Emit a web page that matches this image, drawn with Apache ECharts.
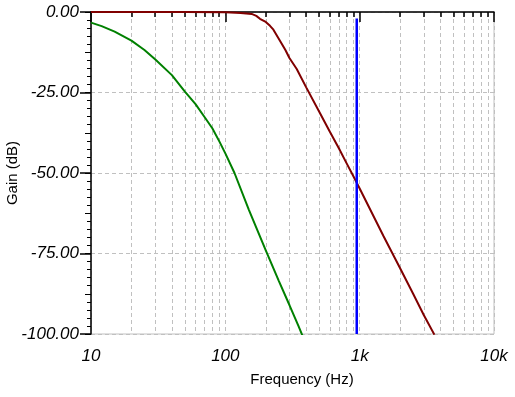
<!DOCTYPE html>
<html>
<head>
<meta charset="utf-8">
<script src="https://cdn.jsdelivr.net/npm/echarts@6/dist/echarts.min.js"></script>
<style>
  html, body { margin: 0; padding: 0; background: #ffffff; }
  #chart { width: 515px; height: 397px; }
</style>
</head>
<body>
<div id="chart"></div>
<script>
// 频率 (Hz) / 增益 (dB)
var redFreq = [10, 50, 100, 130, 157, 170, 181, 200, 215, 228, 255, 280, 300, 340, 400, 500, 600, 700, 800, 900, 1000, 1500, 2000, 2500, 3000, 3600];
var redGain = [0, 0, -0.1, -0.3, -0.6, -1.2, -2.1, -3.1, -4.3, -5.5, -8.9, -11.8, -14.3, -17.7, -23.4, -31.0, -37.2, -42.3, -47.0, -51.1, -54.8, -69.5, -79.6, -87.5, -94.1, -100.2];

var greenFreq = [10, 12, 15, 20, 25, 30, 40, 50, 60, 70, 80, 90, 100, 117, 150, 200, 250, 300, 350, 375];
var greenGain = [-3.3, -4.4, -6.1, -8.9, -11.8, -14.7, -19.6, -24.7, -28.6, -32.6, -36.1, -40.1, -43.9, -50.0, -61.5, -74.0, -83.5, -91.0, -97.5, -100.5];

// 光标
var cursorFreq = [951, 951];
var cursorGain = [-2, -100];

var xTickLabels = { 10: "10", 100: "100", 1000: "1k", 10000: "10k" };

function pairs(xs, ys) {
  var res = [];
  for (var i = 0; i < xs.length; i++) {
    res.push([xs[i], ys[i]]);
  }
  return res;
}

var chartDom = document.getElementById("chart");
var myChart = echarts.init(chartDom);
var option;

var labelFont = {
  color: "#000000",
  fontFamily: "Liberation Sans, Arial, sans-serif",
  fontStyle: "italic",
  fontSize: 17,
};
var gridLine = { color: "#c0c0c0", type: [4, 3], width: 1 };

option = {
  backgroundColor: "#ffffff",
  animation: false,
  grid: {
    left: 91,
    right: 21,
    top: 12,
    bottom: 63,
    outerBoundsMode: "none",
    containLabel: false,
    show: true,
    borderColor: "#c0c0c0",
    borderWidth: 1,
  },
  xAxis: {
    type: "log",
    logBase: 10,
    min: 10,
    max: 10000,
    name: "Frequency (Hz)",
    nameLocation: "middle",
    nameGap: 38,
    nameMoveOverlap: false,
    nameTextStyle: {
      color: "#000000",
      fontFamily: "Liberation Sans, Arial, sans-serif",
      fontSize: 15,
      padding: [0, 0, 0, 19],
    },
    axisLine: { show: true, lineStyle: { color: "#000000", width: 1.5 } },
    axisTick: { show: true, length: 10, lineStyle: { color: "#000000", width: 1.5 } },
    minorTick: { show: true, splitNumber: 9, length: 5, lineStyle: { color: "#000000", width: 1.5 } },
    axisLabel: Object.assign({}, labelFont, {
      margin: 14,
      formatter: function (v) {
        return xTickLabels[Math.round(v)] || "";
      },
    }),
    splitLine: { show: true, lineStyle: gridLine },
    minorSplitLine: { show: true, lineStyle: gridLine },
  },
  yAxis: [
    {
      type: "value",
      min: -100,
      max: 0,
      interval: 25,
      name: "Gain (dB)",
      nameLocation: "middle",
      nameGap: 71,
      nameMoveOverlap: false,
      nameTextStyle: {
        color: "#000000",
        fontFamily: "Liberation Sans, Arial, sans-serif",
        fontSize: 15,
      },
      axisLine: { show: true, lineStyle: { color: "#000000", width: 1.5 } },
      axisTick: { show: true, length: 11, lineStyle: { color: "#000000", width: 1.5 } },
      minorTick: { show: true, splitNumber: 10, length: 4, lineStyle: { color: "#000000", width: 1 } },
      axisLabel: Object.assign({}, labelFont, {
        margin: 12,
        formatter: function (v) {
          return v.toFixed(2);
        },
      }),
      splitLine: { show: true, lineStyle: gridLine },
    },
    {
      // 中间刻度
      type: "value",
      position: "left",
      offset: 0,
      min: -100,
      max: 0,
      interval: 12.5,
      axisLine: { show: false },
      axisTick: { show: true, length: 6, lineStyle: { color: "#000000", width: 1 } },
      axisLabel: { show: false },
      splitLine: { show: false },
    },
  ],
  series: [
    {
      name: "green",
      type: "line",
      data: pairs(greenFreq, greenGain),
      showSymbol: false,
      lineStyle: { color: "#008000", width: 2 },
      itemStyle: { color: "#008000" },
    },
    {
      name: "red",
      type: "line",
      data: pairs(redFreq, redGain),
      showSymbol: false,
      lineStyle: { color: "#800000", width: 2 },
      itemStyle: { color: "#800000" },
    },
    {
      name: "cursor",
      type: "line",
      data: pairs(cursorFreq, cursorGain),
      showSymbol: false,
      lineStyle: { color: "#0000ff", width: 2.5 },
      itemStyle: { color: "#0000ff" },
    },
  ],
};

option && myChart.setOption(option);
</script>
</body>
</html>
